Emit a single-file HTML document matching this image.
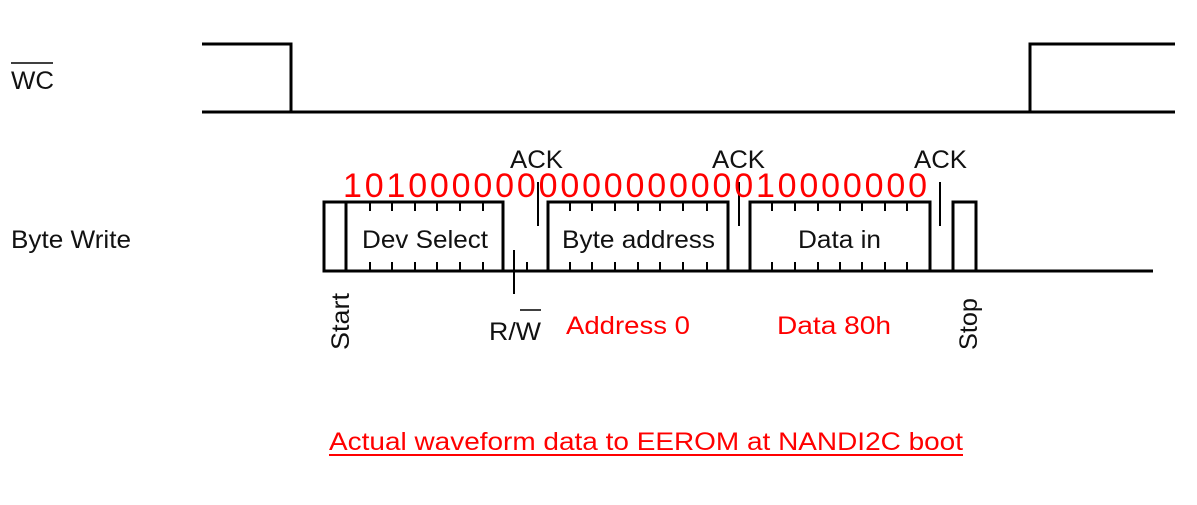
<!DOCTYPE html>
<html><head><meta charset="utf-8"><style>
html,body{margin:0;padding:0;background:#fff;}
svg{display:block;}
text{font-family:"Liberation Sans",sans-serif;}
</style></head><body>
<svg width="1197" height="505" viewBox="0 0 1197 505" xmlns="http://www.w3.org/2000/svg">
<g stroke="#000" stroke-width="3" fill="none">
<polyline points="202,44 291,44 291,112"/>
<line x1="202" y1="112" x2="1175" y2="112"/>
<polyline points="1030,112 1030,44 1175,44"/>
<line x1="323" y1="271" x2="1153" y2="271"/>
<rect x="324" y="202" width="22" height="69"/>
<rect x="346" y="202" width="157" height="69"/>
<rect x="548" y="202" width="180" height="69"/>
<rect x="750" y="202" width="180" height="69"/>
<rect x="953" y="202" width="23" height="69"/>
<line x1="514" y1="250" x2="514" y2="294" stroke-width="2"/>
<line x1="538" y1="182" x2="538" y2="226" stroke-width="2"/>
<line x1="739" y1="182" x2="739" y2="226" stroke-width="2"/>
<line x1="940" y1="182" x2="940" y2="226" stroke-width="2"/>
</g>
<g stroke="#000" stroke-width="2">
<path d="M370,202v9M392,202v9M415,202v9M437,202v9M460,202v9M483,202v9
M370,271v-9M392,271v-9M415,271v-9M437,271v-9M460,271v-9M483,271v-9M527,271v-9
M570,202v9M592,202v9M615,202v9M638,202v9M660,202v9M683,202v9M707,202v9
M570,271v-9M592,271v-9M615,271v-9M638,271v-9M660,271v-9M683,271v-9M707,271v-9
M772,202v9M795,202v9M818,202v9M840,202v9M862,202v9M885,202v9M907,202v9
M772,271v-9M795,271v-9M818,271v-9M840,271v-9M862,271v-9M885,271v-9M907,271v-9"/>
<line x1="11" y1="63" x2="53" y2="63" stroke-width="1.5"/>
<line x1="520" y1="310" x2="541" y2="310" stroke-width="1.5"/>
</g>
<g fill="#111" font-size="25">
<text x="11" y="89" textLength="43" lengthAdjust="spacingAndGlyphs">WC</text>
<text x="11" y="248" textLength="120" lengthAdjust="spacingAndGlyphs">Byte Write</text>
<text x="362" y="248" textLength="126" lengthAdjust="spacingAndGlyphs">Dev Select</text>
<text x="562" y="248" textLength="153" lengthAdjust="spacingAndGlyphs">Byte address</text>
<text x="798" y="248" textLength="83" lengthAdjust="spacingAndGlyphs">Data in</text>
<text x="510" y="168" textLength="53" lengthAdjust="spacingAndGlyphs">ACK</text>
<text x="712" y="168" textLength="53" lengthAdjust="spacingAndGlyphs">ACK</text>
<text x="914" y="168" textLength="53" lengthAdjust="spacingAndGlyphs">ACK</text>
<text x="489" y="340" textLength="52" lengthAdjust="spacingAndGlyphs">R/W</text>
<text transform="translate(349,350) rotate(-90)" textLength="57" lengthAdjust="spacingAndGlyphs">Start</text>
<text transform="translate(977,350) rotate(-90)" textLength="52" lengthAdjust="spacingAndGlyphs">Stop</text>
</g>
<g fill="#f00">
<text x="343" y="197" font-size="34" textLength="584" lengthAdjust="spacing">101000000000000000010000000</text>
<text x="566" y="334" font-size="25" textLength="124" lengthAdjust="spacingAndGlyphs">Address 0</text>
<text x="777" y="334" font-size="25" textLength="114" lengthAdjust="spacingAndGlyphs">Data 80h</text>
<text x="329" y="450" font-size="25" textLength="634" lengthAdjust="spacingAndGlyphs">Actual waveform data to EEROM at NANDI2C boot</text>
<rect x="329" y="454" width="634" height="2"/>
</g>
</svg>
</body></html>
